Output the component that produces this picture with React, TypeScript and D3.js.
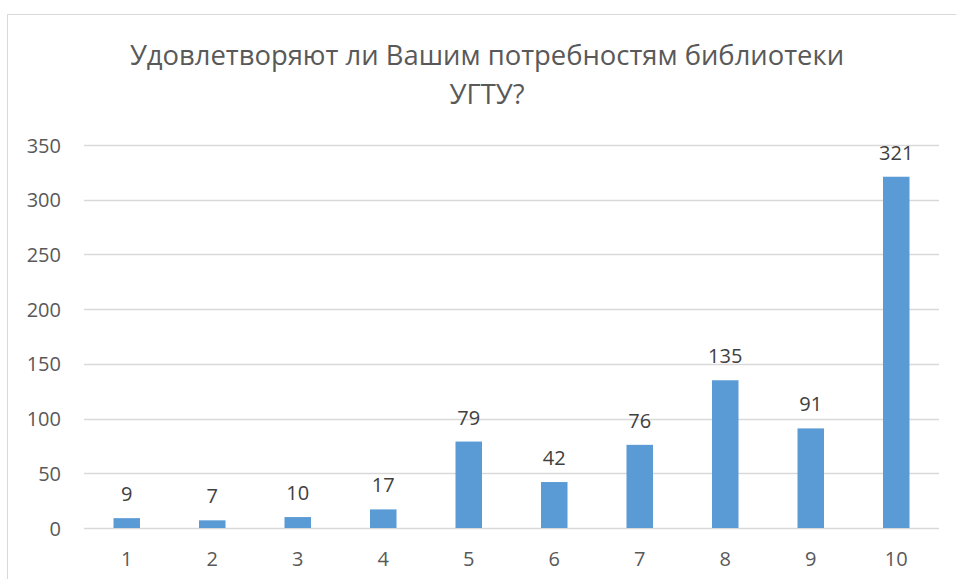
import React, { useEffect, useRef } from 'react';
import * as d3 from 'd3';

// chart data
const categories = ['1', '2', '3', '4', '5', '6', '7', '8', '9', '10'];
const values = [9, 7, 10, 17, 79, 42, 76, 135, 91, 321];
const yTicks = [0, 50, 100, 150, 200, 250, 300, 350];
const titleLines = ['Удовлетворяют ли Вашим потребностям библиотеки', 'УГТУ?'];

const W = 956;
const H = 579;
const FONT = '"Open Sans", sans-serif';

export default function App() {
  const svgRef = useRef<SVGSVGElement>(null);

  useEffect(() => {
    const svg = d3.select(svgRef.current);
    svg.selectAll('*').remove();

    // outer chart frame (runs off the right/bottom edge)
    svg.append('rect')
      .attr('x', 7.5)
      .attr('y', 14.5)
      .attr('width', W)
      .attr('height', H)
      .attr('fill', '#fff')
      .attr('stroke', '#d9d9d9')
      .attr('stroke-width', 1);

    const margin = { left: 84, right: 17, top: 145, bottom: 51 };
    const innerW = W - margin.left - margin.right;
    const innerH = H - margin.top - margin.bottom;

    const g = svg.append('g').attr('transform', `translate(${margin.left},${margin.top})`);

    const x = d3.scaleBand().domain(categories).range([0, innerW]).paddingInner(0.69).paddingOuter(0.345);
    const y = d3.scaleLinear().domain([0, 350]).range([innerH, 0]);

    // grid
    g.selectAll('.grid')
      .data(yTicks)
      .join('line')
      .attr('x1', 0)
      .attr('x2', innerW)
      .attr('y1', d => Math.round(y(d)) + 0.5)
      .attr('y2', d => Math.round(y(d)) + 0.5)
      .attr('stroke', '#d9d9d9')
      .attr('stroke-width', 1.5);

    // y labels
    g.selectAll('.ylab')
      .data(yTicks)
      .join('text')
      .attr('x', -23)
      .attr('y', d => y(d) + 7.5)
      .attr('text-anchor', 'end')
      .attr('fill', '#595959')
      .style('font-family', FONT)
      .style('font-size', '20px')
      .text(d => d);

    // x labels
    g.selectAll('.xlab')
      .data(categories)
      .join('text')
      .attr('x', d => (x(d) as number) + x.bandwidth() / 2)
      .attr('y', innerH + 38)
      .attr('text-anchor', 'middle')
      .attr('fill', '#595959')
      .style('font-family', FONT)
      .style('font-size', '20px')
      .text(d => d);

    // bars
    g.selectAll('.bar')
      .data(values)
      .join('rect')
      .attr('x', (d, i) => x(categories[i]) as number)
      .attr('width', x.bandwidth())
      .attr('y', d => y(d))
      .attr('height', d => innerH - y(d))
      .attr('fill', '#5b9bd5');

    // value labels
    g.selectAll('.val')
      .data(values)
      .join('text')
      .attr('x', (d, i) => (x(categories[i]) as number) + x.bandwidth() / 2)
      .attr('y', d => y(d) - 17)
      .attr('text-anchor', 'middle')
      .attr('fill', '#404040')
      .style('font-family', FONT)
      .style('font-size', '20px')
      .text(d => d);

    // title
    svg.selectAll('.title')
      .data(titleLines)
      .join('text')
      .attr('x', 487)
      .attr('y', (d, i) => 65 + i * 39)
      .attr('text-anchor', 'middle')
      .attr('fill', '#595959')
      .style('font-family', FONT)
      .style('font-size', '27.4px')
      .text(d => d);
  }, []);

  return (
    <svg
      ref={svgRef}
      width={W}
      height={H}
      style={{ position: 'absolute', left: 0, top: 0, background: '#fff' }}
    />
  );
}
